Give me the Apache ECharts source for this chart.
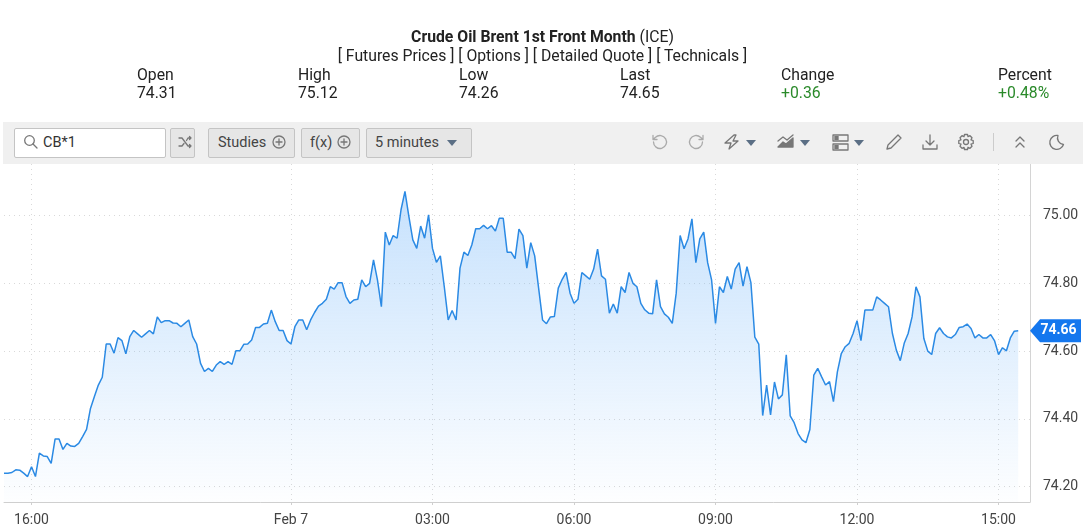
<!DOCTYPE html>
<html><head><meta charset="utf-8">
<script src="https://cdn.jsdelivr.net/npm/echarts@6/dist/echarts.min.js"></script>
<style>
html,body{margin:0;padding:0;background:#fff;width:1089px;height:527px;overflow:hidden;font-family:Roboto,sans-serif;color:#222}
#chart{position:absolute;left:0;top:0;width:1089px;height:527px}
.t{position:absolute;font-size:15.75px;line-height:18px;white-space:nowrap;transform:translateY(-50%)}
.c{left:0;width:1085px;text-align:center}
.g{color:#2a8a2a}
#bar{position:absolute;left:3px;top:122px;width:1080px;height:42px;background:#f0f0f0}
.b{position:absolute;top:128px;height:28px;background:#e6e6e6;border:1px solid #c4c4c4;border-radius:2px;box-sizing:content-box;font-size:14.5px;line-height:27px;color:#444;white-space:nowrap}
svg.i{position:absolute;fill:none;stroke:#777;stroke-width:1.3;stroke-linecap:round;stroke-linejoin:round}
.car{position:absolute;width:0;height:0;border-left:5px solid transparent;border-right:5px solid transparent;border-top:6px solid #5b6f85}
</style></head><body>
<div id="chart"></div>
<div class="t c" style="top:37px"><b>Crude Oil Brent 1st Front Month</b> (ICE)</div>
<div class="t c" style="top:56px">[ Futures Prices ] [ Options ] [ Detailed Quote ] [ Technicals ]</div>
<div id="quote"></div>
<div id="bar"></div>
<div class="b" style="left:14px;width:150px;background:#fff;"><span style="position:absolute;left:28px;color:#333">CB*1</span></div>
<svg class="i" style="left:23px;top:134px" width="16" height="16" viewBox="0 0 16 16"><circle cx="6.5" cy="6.5" r="4.8"/><path d="M10 10l4 4"/></svg>
<div class="b" style="left:170px;width:23px"></div>
<svg class="i" style="left:178px;top:135px" width="15" height="15" viewBox="0 0 15 15"><path d="M1 3h3l6 8h3M1 11h3l2-2.5M8.5 5.500L10 3h3M11.500 1.500L13 3l-1.500 1.500M11.500 9.500L13 11l-1.500 1.500"/></svg>
<div class="b" style="left:208px;width:85px"><span style="position:absolute;left:9px">Studies</span></div>
<svg class="i" style="left:272px;top:135px" width="14" height="14" viewBox="0 0 14 14"><circle cx="7" cy="7" r="6"/><path d="M7 4v6M4 7h6"/></svg>
<div class="b" style="left:301px;width:57px"><span style="position:absolute;left:8px">f(x)</span></div>
<svg class="i" style="left:337px;top:135px" width="14" height="14" viewBox="0 0 14 14"><circle cx="7" cy="7" r="6"/><path d="M7 4v6M4 7h6"/></svg>
<div class="b" style="left:366px;width:104px"><span style="position:absolute;left:8px">5 minutes</span></div>
<div class="car" style="left:447px;top:140px"></div>
<svg class="i" style="left:650px;top:133px;stroke:#aaa" width="18" height="18" viewBox="0 0 18 18"><path d="M3.500 9a6.500 6.500 0 1 0 2-4.700L3 6.500M3 2.500v4h4"/></svg>
<svg class="i" style="left:688px;top:133px;stroke:#aaa" width="18" height="18" viewBox="0 0 18 18"><path d="M14.500 9a6.500 6.500 0 1 1-2-4.700L15 6.500M15 2.500v4h-4"/></svg>
<svg class="i" style="left:723px;top:133px" width="18" height="18" viewBox="0 0 18 18"><path d="M11 2L2 10h6l-2 6 9-8h-5l3-6z"/></svg>
<div class="car" style="left:746px;top:140px"></div>
<svg class="i" style="left:777px;top:134px;fill:#777" width="18" height="16" viewBox="0 0 18 16"><path d="M1 13l5-5 3 2 7-6v9z"/><path d="M1 7l5-4 4 3 6-5" fill="none"/></svg>
<div class="car" style="left:800px;top:140px"></div>
<svg class="i" style="left:832px;top:133px" width="17" height="18" viewBox="0 0 17 18"><rect x="1" y="2" width="15" height="6"/><rect x="1" y="11" width="15" height="6"/><path d="M3 4h3M3 6h3M3 13h3M3 15h3" stroke-width="1.800"/></svg>
<div class="car" style="left:854px;top:140px"></div>
<svg class="i" style="left:885px;top:133px" width="18" height="18" viewBox="0 0 18 18"><path d="M2 16l1-4L13 2l3 3L6 15z"/></svg>
<svg class="i" style="left:921px;top:133px" width="18" height="18" viewBox="0 0 18 18"><path d="M9 2v10M5 8l4 4 4-4M2 12v4h14v-4"/></svg>
<svg class="i" style="left:957px;top:133px" width="18" height="18" viewBox="0 0 18 18"><path d="M7.500 1.500h3l.5 2.200 2-1 2 2.100-1 2 2.200.7v3l-2.200.7 1 2-2 2.100-2-1-.5 2.200h-3l-.5-2.200-2 1-2-2.100 1-2-2.200-.7v-3l2.200-.7-1-2 2-2.100 2 1z"/><circle cx="9" cy="9" r="2.500"/></svg>
<div style="position:absolute;left:993px;top:133px;width:1px;height:18px;background:#ccc"></div>
<svg class="i" style="left:1012px;top:134px" width="16" height="16" viewBox="0 0 16 16"><path d="M4 7l4-4 4 4M4 13l4-4 4 4"/></svg>
<svg class="i" style="left:1047px;top:133px" width="18" height="18" viewBox="0 0 18 18"><path d="M11 2.500a7 7 0 1 0 5.500 9 6.500 6.500 0 0 1-5.500-9z"/></svg>
<script>
const quoteLabels = ['Open', 'High', 'Low', 'Last', 'Change', 'Percent'];
const quoteValues = ['74.31', '75.12', '74.26', '74.65', '+0.36', '+0.48%'];
const quoteLefts = [137, 298, 459, 620, 781, 998];

const prices = [
74.240,74.240,74.242,74.250,74.249,74.240,74.230,74.259,74.230,74.299,
74.291,74.289,74.269,74.341,74.341,74.310,74.328,74.320,74.319,74.328,
74.348,74.369,74.431,74.466,74.500,74.523,74.621,74.621,74.594,74.640,
74.631,74.592,74.643,74.661,74.651,74.641,74.651,74.661,74.651,74.701,
74.684,74.690,74.690,74.683,74.682,74.672,74.682,74.692,74.643,74.621,
74.564,74.540,74.549,74.540,74.559,74.569,74.561,74.569,74.561,74.601,
74.601,74.620,74.621,74.633,74.670,74.670,74.680,74.682,74.721,74.687,
74.661,74.661,74.631,74.621,74.672,74.692,74.692,74.663,74.692,74.714,
74.733,74.741,74.753,74.790,74.783,74.802,74.802,74.761,74.741,74.751,
74.753,74.810,74.790,74.800,74.869,74.810,74.731,74.951,74.913,74.941,
74.933,75.017,75.071,74.997,74.928,74.903,74.969,74.933,75.002,74.903,
74.862,74.881,74.790,74.692,74.720,74.692,74.845,74.892,74.882,74.913,
74.961,74.961,74.971,74.961,74.970,74.954,74.992,74.992,74.892,74.892,
74.873,74.960,74.941,74.845,74.920,74.881,74.786,74.692,74.681,74.701,
74.702,74.786,74.812,74.832,74.771,74.741,74.753,74.832,74.822,74.812,
74.842,74.901,74.822,74.812,74.712,74.739,74.712,74.790,74.773,74.832,
74.800,74.790,74.741,74.722,74.712,74.710,74.810,74.731,74.710,74.700,
74.682,74.771,74.941,74.902,74.931,74.990,74.861,74.931,74.951,74.861,
74.810,74.682,74.790,74.773,74.820,74.783,74.842,74.861,74.792,74.849,
74.802,74.641,74.621,74.410,74.500,74.412,74.509,74.459,74.471,74.589,
74.409,74.389,74.357,74.338,74.330,74.369,74.529,74.549,74.524,74.500,
74.510,74.451,74.539,74.593,74.613,74.623,74.652,74.690,74.631,74.721,
74.721,74.721,74.760,74.751,74.741,74.731,74.652,74.603,74.572,74.623,
74.652,74.701,74.790,74.760,74.637,74.600,74.590,74.652,74.669,74.652,
74.642,74.639,74.649,74.670,74.672,74.680,74.667,74.639,74.649,74.639,
74.639,74.649,74.630,74.590,74.610,74.601,74.639,74.659,74.660
];
const yTicks = [74.2, 74.4, 74.6, 74.8, 75.0];
const tickIndexes = [7, 73, 109, 145, 181, 217, 253];
const tickLabels = ['16:00', 'Feb 7', '03:00', '06:00', '09:00', '12:00', '15:00'];
const lastPrice = 74.66;
const slotCount = 262;

const categories = [];
for (let i = 0; i < slotCount; i++) {
  const k = tickIndexes.indexOf(i);
  categories.push(k >= 0 ? tickLabels[k] : 'bar ' + i);
}

const q = document.getElementById('quote');
quoteLabels.forEach((l, i) => {
  const isG = quoteValues[i][0] === '+';
  q.insertAdjacentHTML('beforeend',
    `<div class="t" style="left:${quoteLefts[i]}px;top:75px">${l}</div>` +
    `<div class="t${isG ? ' g' : ''}" style="left:${quoteLefts[i]}px;top:93px">${quoteValues[i]}</div>`);
});

const isTick = i => tickIndexes.includes(i);
const chart = echarts.init(document.getElementById('chart'));
chart.setOption({
  animation: false,
  grid: { left: 4, right: 59, top: 164, bottom: 25, containLabel: false },
  xAxis: {
    type: 'category', data: categories, boundaryGap: false,
    axisLine: { lineStyle: { color: '#cfcfcf', width: 1 } },
    axisTick: { show: true, length: 3, interval: isTick, lineStyle: { color: '#cfcfcf' } },
    axisLabel: { interval: isTick, color: '#444', fontFamily: 'Roboto', fontSize: 14, margin: 11, hideOverlap: false },
    splitLine: { show: true, interval: isTick, lineStyle: { color: '#d9d9d9', type: [1, 4], width: 1 } }
  },
  yAxis: {
    type: 'value', position: 'right', min: 74.155, max: 75.152, scale: true,
    axisLine: { show: true, lineStyle: { color: '#d4d4d4', width: 1 } },
    axisTick: { show: false, customValues: yTicks },
    axisLabel: { customValues: yTicks, formatter: v => v.toFixed(2), color: '#444', fontFamily: 'Roboto', fontSize: 14, margin: 13,
      verticalAlign: 'middle', verticalAlignMinLabel: 'middle', verticalAlignMaxLabel: 'middle', padding: [2, 0, 0, 0] },
    splitLine: { show: true, lineStyle: { color: '#d9d9d9', type: [1, 4], width: 1 } }
  },
  series: [{
    type: 'line', data: prices, showSymbol: false, symbol: 'none', smooth: false,
    lineStyle: { color: '#2b8ae4', width: 1.5 },
    areaStyle: { color: { type: 'linear', x: 0, y: 0, x2: 0, y2: 1, colorStops: [
      { offset: 0, color: 'rgba(125,187,250,0.62)' },
      { offset: 1, color: 'rgba(125,187,250,0.02)' }
    ] } },
    markPoint: {
      silent: true,
      symbol: 'path://M0 11.5L10 0H51V23H10Z', symbolSize: [51, 23], symbolOffset: [25.5, 0],
      itemStyle: { color: '#1477ee' },
      label: { show: true, formatter: p => p.value.toFixed(2), color: '#fff', fontFamily: 'Roboto', fontWeight: 'bold', fontSize: 14, offset: [3, 0] },
      data: [{ coord: [slotCount - 1, lastPrice], value: lastPrice }]
    }
  }]
});
</script>
</body></html>
